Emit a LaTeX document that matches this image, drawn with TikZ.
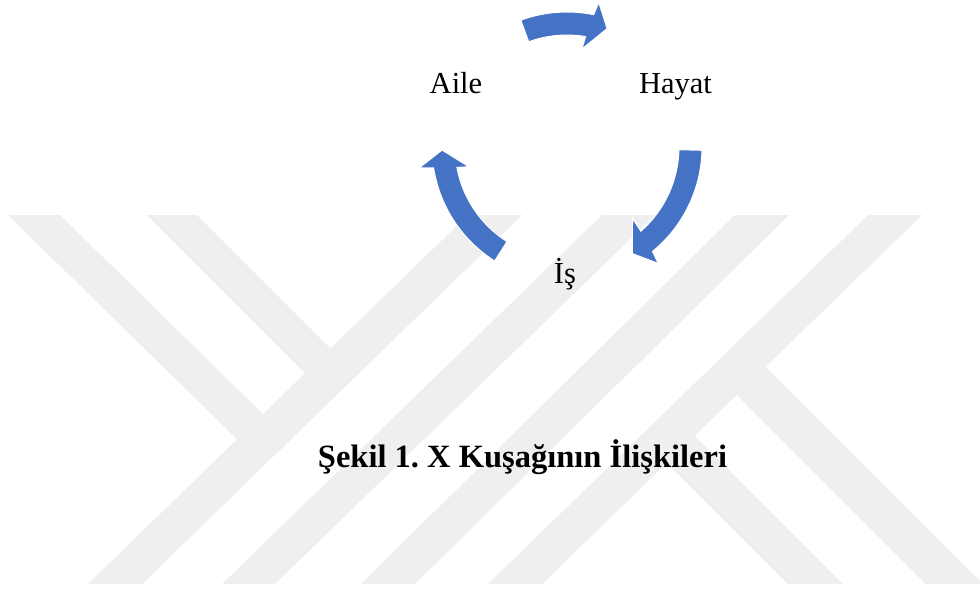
\documentclass[tikz,border=0pt]{standalone}
\usepackage{fontspec}
\setmainfont{Liberation Serif}
\frenchspacing
\definecolor{arrowblue}{HTML}{4472C4}
\definecolor{wmgray}{HTML}{EFEFEF}
\tikzset{
  wmark/.style={fill=wmgray, draw=none},
  cyclearrow/.style={fill=arrowblue, draw=white, line width=1pt, line join=miter},
  lbl/.style={font=\fontsize{30.5}{36}\selectfont, inner sep=0pt, anchor=base},
  capt/.style={font=\fontsize{32.5}{39}\selectfont\bfseries, inner sep=0pt, anchor=base}
}
\begin{document}
\begin{tikzpicture}[x=1pt,y=-1pt]
\useasboundingbox (0,0) rectangle (980,590);
\fill[white] (0,0) rectangle (980,590);
% watermark
\begin{scope}
\clip (0,0) rectangle (980,590);
% Y group
\fill[wmark] (468,215) -- (522,215) -- (142,584) -- (88,584) -- cycle;
\fill[wmark] (8,215) -- (60,215) -- (273,424) -- (247,449) -- cycle;
\fill[wmark] (147,215) -- (197,215) -- (340,358) -- (315,383) -- cycle;
% K group
\fill[wmark] (602,215) -- (655,215) -- (275,584) -- (222,584) -- cycle;
\fill[wmark] (735,215) -- (789,215) -- (415,584) -- (361,584) -- cycle;
\fill[wmark] (868,215) -- (922,215) -- (542,584) -- (488,584) -- cycle;
\fill[wmark] (756,357) -- (983,584) -- (926,584) -- (727,385) -- cycle;
\fill[wmark] (685,426) -- (843,584) -- (788,584) -- (657,453) -- cycle;
\end{scope}
% cycle arrows
\coordinate (c) at (567,147);
\begin{scope}[shift={(c)}]
\filldraw[cyclearrow] (110:112pt) -- (110:135pt) arc[start angle=110, end angle=78.6, radius=135pt]
  -- (77.6:148pt) -- (71.3:125pt) -- (81.4:99pt) -- (80.4:112pt)
  arc[start angle=80.4, end angle=110, radius=112pt] -- cycle;
\filldraw[cyclearrow] (-1.4:112pt) -- (-1.4:135pt) arc[start angle=-1.4, end angle=-50.7, radius=135pt]
  -- (-51.9:148pt) -- (-58.5:125pt) -- (-47.5:97pt) -- (-48.7:112pt)
  arc[start angle=-48.7, end angle=-1.4, radius=112pt] -- cycle;
\filldraw[cyclearrow] (237.6:112pt) -- (237.6:135pt) arc[start angle=237.6, end angle=188.9, radius=135pt]
  -- (188:149pt) -- (181.4:125pt) -- (191.4:100pt) -- (190.5:112pt)
  arc[start angle=190.5, end angle=237.6, radius=112pt] -- cycle;
\end{scope}
% labels
\node[lbl] (aile) at (456,93) {Aile};
\node[lbl] (hayat) at (675.5,93) {Hayat};
\node[lbl] (is) at (565,283) {İş};
\node[capt] (caption) at (522.5,467) {Şekil 1. X Kuşağının İlişkileri};
\end{tikzpicture}
\end{document}
